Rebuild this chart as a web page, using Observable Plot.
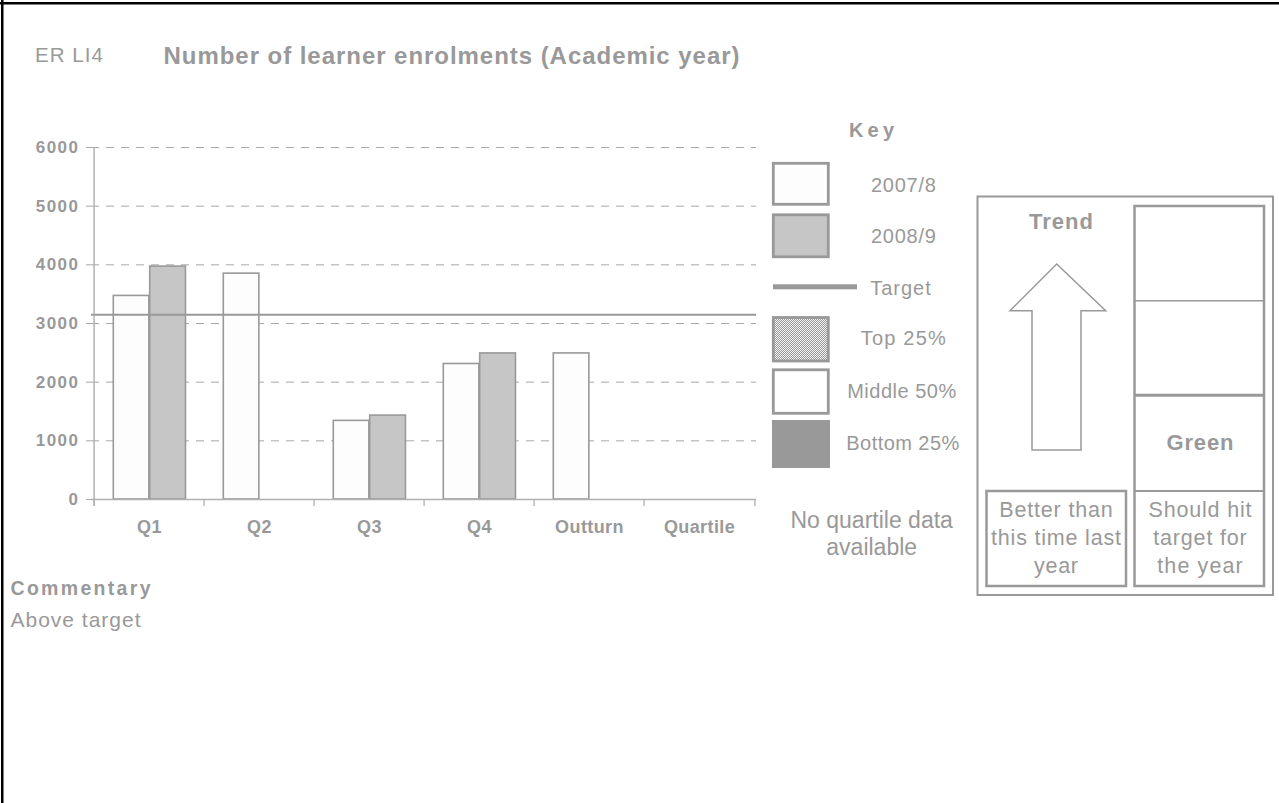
<!DOCTYPE html>
<html>
<head>
<meta charset="utf-8">
<script src="https://cdn.jsdelivr.net/npm/d3@7"></script>
<script src="https://cdn.jsdelivr.net/npm/@observablehq/plot@0.6"></script>
<style>
  html, body { margin: 0; padding: 0; background: #fff; }
  #page { position: relative; width: 1279px; height: 803px; overflow: hidden; background: #fff; }
  #page > svg { position: absolute; left: 0; top: 0; }
  #chart svg { position: absolute; left: 0; top: 0; }
</style>
</head>
<body>
<div id="page"><div id="chart"></div></div>
<script>
// ---------- data ----------
const categories = ["Q1", "Q2", "Q3", "Q4", "Outturn", "Quartile"];
const enrol2007 = [3470, 3850, 1340, 2310, 2490, null];
const enrol2008 = [3970, null, 1430, 2490, null, null];
const targetValue = 3150;
const yTicks = [0, 1000, 2000, 3000, 4000, 5000, 6000];
const seriesNames = ["2007/8", "2008/9"];
const keyLabels = ["2007/8", "2008/9", "Target", "Top 25%", "Middle 50%", "Bottom 25%"];
const indicatorCode = "ER LI4";
const chartTitle = "Number of learner enrolments (Academic year)";
const noQuartile = ["No quartile data", "available"];
const trendTitle = "Trend";
const trendLines = ["Better than", "this time last", "year"];
const ragStatus = "Green";
const ragLines = ["Should hit", "target for", "the year"];
const commentaryTitle = "Commentary";
const commentaryText = "Above target";

// ---------- style ----------
const FONT = '"Liberation Sans", Arial, Helvetica, sans-serif';
const GRAY = "#999999";
const W = 770, H = 560, ML = 91, MR = 14, MT = 147, MB = 61;
const bw = (W - ML - MR) / categories.length;

const rows07 = categories.map((c, i) => ({cat: c, series: seriesNames[0], value: enrol2007[i]})).filter(d => d.value != null);
const rows08 = categories.map((c, i) => ({cat: c, series: seriesNames[1], value: enrol2008[i]})).filter(d => d.value != null);

const chart = Plot.plot({
  width: W, height: H,
  marginLeft: ML, marginRight: MR, marginTop: MT, marginBottom: MB,
  style: {background: "transparent", color: GRAY, fontFamily: FONT, overflow: "visible"},
  x: {type: "band", domain: categories, padding: 0, label: null},
  y: {domain: [0, 6000], label: null},
  marks: [
    Plot.ruleY(yTicks.slice(1), {stroke: "#a8a8a8", strokeWidth: 1, strokeDasharray: "8,7"}),
    Plot.barY(rows07, {x: "cat", y: "value", fill: "#fdfdfd", stroke: GRAY, strokeWidth: 1.6, insetLeft: 19.3, insetRight: bw - 55.7}),
    Plot.barY(rows08, {x: "cat", y: "value", fill: "#c6c6c6", stroke: GRAY, strokeWidth: 1.6, insetLeft: 55.7, insetRight: bw - 92.3}),
    Plot.ruleY([targetValue], {stroke: GRAY, strokeWidth: 2}),
    Plot.ruleY([0], {stroke: "#b0b0b0", strokeWidth: 1.5}),
    Plot.ruleX([categories[0]], {dx: -bw / 2, y1: 6000, y2: 0, stroke: "#a8a8a8", strokeWidth: 1.3, insetBottom: -7}),
    Plot.ruleX(categories, {dx: -bw / 2, y1: 0, y2: 0, stroke: "#b0b0b0", strokeWidth: 1.3, insetBottom: -7}),
    Plot.ruleX([categories[categories.length - 1]], {dx: bw / 2, y1: 0, y2: 0, stroke: "#b0b0b0", strokeWidth: 1.3, insetBottom: -7}),
    Plot.axisY({ticks: yTicks, tickSize: 5, tickPadding: 7, tickFormat: d => String(d), stroke: "#a8a8a8", label: null}),
    Plot.axisX({tickSize: 0, tickPadding: 21, label: null})
  ]
});
document.getElementById("chart").appendChild(chart);
d3.select(chart).selectAll('g[aria-label="y-axis tick label"]').attr("font-size", 17).attr("font-weight", "bold");
d3.select(chart).selectAll('g[aria-label="y-axis tick label"] text').attr("font-size", 17).attr("font-weight", "bold").style("letter-spacing", "1.5px");
d3.select(chart).selectAll('g[aria-label="x-axis tick label"]').attr("font-size", 18).attr("font-weight", "bold");
d3.select(chart).selectAll('g[aria-label="x-axis tick label"] text').attr("font-size", 18).attr("font-weight", "bold").style("letter-spacing", "0.4px");

// ---------- overlay: titles, key, trend panel, commentary ----------
const svg = d3.select("#page").append("svg")
  .attr("width", 1279).attr("height", 803)
  .style("font-family", FONT).style("pointer-events", "none");

const defs = svg.append("defs");
const pat = defs.append("pattern").attr("id", "dots").attr("width", 2).attr("height", 2).attr("patternUnits", "userSpaceOnUse");
pat.append("rect").attr("width", 2).attr("height", 2).attr("fill", "#9a9a9a");
pat.append("rect").attr("width", 1).attr("height", 1).attr("fill", "#f2f2f2");
pat.append("rect").attr("x", 1).attr("y", 1).attr("width", 1).attr("height", 1).attr("fill", "#f2f2f2");

function txt(x, y, s, o) {
  const t = svg.append("text").attr("x", x).attr("y", y).text(s)
    .attr("fill", GRAY).attr("font-size", o.size)
    .attr("font-weight", o.bold ? "bold" : "normal")
    .attr("text-anchor", o.anchor || "start");
  if (o.w) t.attr("textLength", o.w).attr("lengthAdjust", "spacing");
  return t;
}
function box(x, y, w, h, o) {
  return svg.append("rect").attr("x", x).attr("y", y).attr("width", w).attr("height", h)
    .attr("fill", o.fill || "none").attr("stroke", o.stroke || "none").attr("stroke-width", o.sw || 0);
}

// titles
txt(35, 62, indicatorCode, {size: 20.5, w: 68});
txt(163.5, 64, chartTitle, {size: 24, bold: true, w: 576});

// key
txt(871.5, 137, "Key", {size: 20, bold: true, anchor: "middle", w: 45});
box(773.3, 163.3, 55, 41, {fill: "#fdfdfd", stroke: GRAY, sw: 2.8});
box(773.3, 214.8, 55, 42, {fill: "#c6c6c6", stroke: GRAY, sw: 2.8});
box(773, 284.3, 84, 5, {fill: GRAY});
box(773.3, 317.5, 55, 43.5, {fill: "url(#dots)", stroke: GRAY, sw: 2.8});
box(773.3, 369.8, 55, 43.5, {fill: "#ffffff", stroke: GRAY, sw: 2.8});
box(772, 420, 58, 48, {fill: GRAY});
const keyPos = [[903.4, 191.7, 65], [903.4, 242.7, 65], [900.5, 295, 60.5], [903.3, 345, 85], [901.7, 398.3, 109], [902.8, 450, 113]];
keyLabels.forEach((s, i) => txt(keyPos[i][0], keyPos[i][1], s, {size: 20, anchor: "middle", w: keyPos[i][2]}));
txt(871.7, 528, noQuartile[0], {size: 23, anchor: "middle"});
txt(871.7, 555, noQuartile[1], {size: 23, anchor: "middle"});

// trend / RAG panel
box(977.5, 196.5, 295.5, 398.5, {stroke: GRAY, sw: 2});
box(1134.5, 206, 129.5, 380, {stroke: GRAY, sw: 2.5});
svg.append("line").attr("x1", 1134.5).attr("x2", 1264).attr("y1", 300.7).attr("y2", 300.7).attr("stroke", GRAY).attr("stroke-width", 1.6);
svg.append("line").attr("x1", 1134.5).attr("x2", 1264).attr("y1", 395.3).attr("y2", 395.3).attr("stroke", GRAY).attr("stroke-width", 3);
svg.append("line").attr("x1", 1134.5).attr("x2", 1264).attr("y1", 491).attr("y2", 491).attr("stroke", GRAY).attr("stroke-width", 2);
box(986.5, 491, 139.5, 95, {stroke: GRAY, sw: 2.5});
svg.append("polygon")
  .attr("points", "1056.7,264 1105.7,310.7 1081,310.7 1081,450 1032,450 1032,310.7 1010,310.7")
  .attr("fill", "#fff").attr("stroke", GRAY).attr("stroke-width", 1.5);
txt(1061, 229.3, trendTitle, {size: 22, bold: true, anchor: "middle", w: 64});
txt(1200, 450, ragStatus, {size: 22, bold: true, anchor: "middle", w: 67});
const trendW = [113.5, 130, 44], ragW = [103, 93.5, 85.5];
const lineY = [517.3, 545, 573];
trendLines.forEach((s, i) => txt(1056, lineY[i], s, {size: 21.5, anchor: "middle", w: trendW[i]}));
ragLines.forEach((s, i) => txt(1200, lineY[i], s, {size: 21.5, anchor: "middle", w: ragW[i]}));

// commentary
txt(10.5, 595, commentaryTitle, {size: 19.5, bold: true, w: 140});
txt(10.5, 626.7, commentaryText, {size: 21, w: 130});

// page frame (left and top black edges)
box(1, 0, 2.5, 803, {fill: "#000"});
box(0, 2, 1279, 2.5, {fill: "#000"});
</script>
</body>
</html>
